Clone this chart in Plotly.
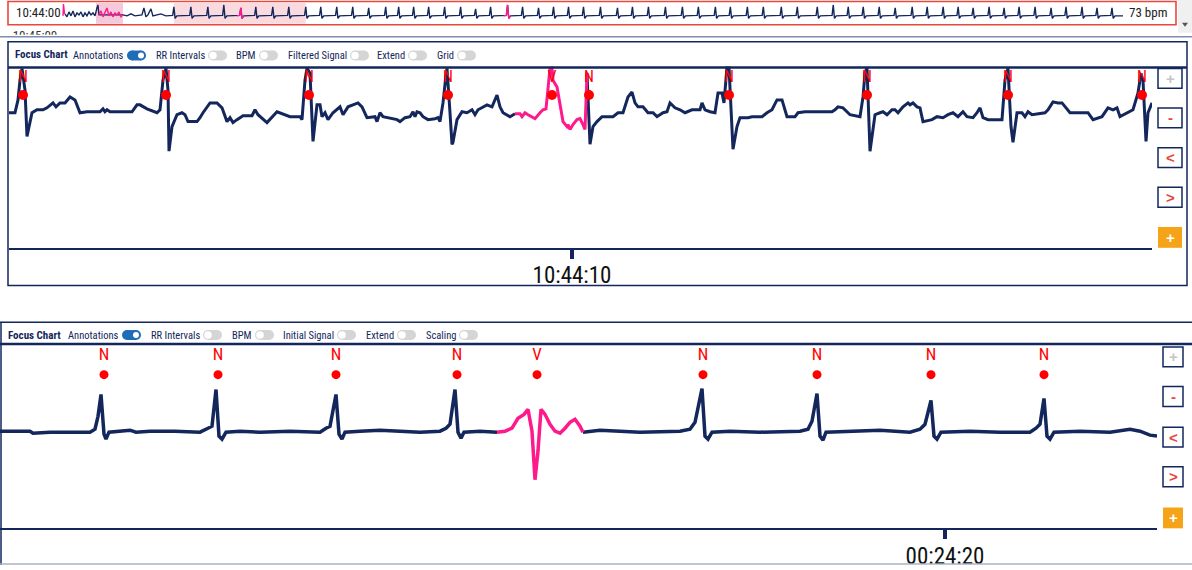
import plotly.graph_objects as go

W, H = 1192, 570
NAVY = "#13275c"
PINK = "#ff1a8c"
RED = "#ff0000"
BTN_RED = "#e8453c"
ORANGE = "#f5a318"
FONT = "Roboto Condensed, Roboto, sans-serif"

# ---------------- DATA ----------------
# Overview strip (time in s from 10:44:00, amplitude in mV)
ov_noise_t = [0.10, 0.20, 0.30, 0.40, 0.50, 0.60, 0.70, 0.80, 0.90, 1.00, 1.10, 1.20, 1.30, 1.40, 1.50, 1.60, 1.70, 1.75, 1.80,
              3.00, 3.20, 3.40, 3.60, 3.80, 3.95, 4.05, 4.15, 4.25, 4.40, 4.50, 4.70, 4.90, 5.15, 5.40]
ov_noise_v = [0.2, -0.1, 0.4, 0.0, 0.5, -0.1, 0.3, 0.1, 0.4, -0.1, 0.3, 0.0, 0.4, 0.1, 0.3, 0.0, 0.8, 1.1, 0.1,
              0.1, 0.0, 0.2, 0.0, 0.1, 0.1, 0.8, -0.1, 0.1, 0.7, 0.0, 0.1, 0.2, 0.0, 0.0]
ov_pink_noise_t = [0.0, 0.025, 0.075, None, 1.80, 1.90, 2.00, 2.10, 2.20, 2.30, 2.40, 2.50, 2.60, 2.70, 2.80, 2.90, 3.00]
ov_pink_noise_v = [0.0, 1.2, 0.2, None, 0.1, 0.5, -0.1, 0.4, 0.8, 0.0, 0.4, -0.1, 0.3, 0.1, 0.4, -0.1, 0.1]
ov_beats = [5.55, 6.40, 7.25, 8.05, 8.90, 9.65, 10.50, 11.30, 12.15, 12.90, 13.70, 14.50, 15.30, 16.15, 16.80,
            17.55, 18.30, 19.10, 19.90, 20.65, 21.40, 22.25, 23.00, 23.80, 24.55, 25.30, 26.05, 26.90, 27.75,
            28.50, 29.30, 30.15, 31.00, 31.80, 32.65, 33.40, 34.25, 35.05, 35.95, 36.75, 37.75, 38.55, 39.30,
            40.05, 40.85, 41.65, 42.50, 43.25, 44.05, 44.80, 45.55, 46.35, 47.10, 47.85, 48.65, 49.45, 50.20,
            51.00, 51.75, 52.50]
ov_amps = [0.9, 0.9, 0.9, 1.1, 0.8, 0.9, 0.9, 0.9, 0.9, 0.9, 0.9, 0.9, 0.8, 0.9, 0.9,
           0.9, 0.9, 0.9, 0.9, 0.7, 0.9, 1.1, 0.9, 0.8, 0.9, 0.9, 0.9, 0.9, 0.8,
           0.9, 0.9, 0.9, 0.9, 0.9, 0.9, 0.9, 0.9, 0.9, 0.9, 0.9, 0.9, 1.1, 0.9,
           0.9, 0.9, 0.8, 0.9, 0.9, 0.9, 0.9, 0.8, 0.9, 0.8, 0.9, 0.9, 0.8, 0.9,
           0.9, 0.8, 0.8]
ov_pink_beats = [8.90, 22.25]
ov_end = 53.05
ov_highlights = [(1.65, 3.0, "#f6c9da"), (5.55, 12.15, "#fadadf")]
ov_next_label = ["10:45:00"]

# Focus chart 1 (time in ms from 10:44:07.140, amplitude in uV)
p1_t = [45, 75, 90, 100, 110, 125, 135, 160, 185, 215, 235, 265, 280, 300, 325, 350, 375, 400, 435, 500, 515, 525, 535, 550,
        660, 685, 700, 735, 785, 800, 815, 830, 840, 845, 860, 885, 910, 925, 940, 985, 1000, 1015, 1050, 1085, 1110, 1135,
        1150, 1165, 1185, 1215, 1260, 1275, 1290, 1335, 1385, 1450, 1500, 1510, 1525, 1535, 1550, 1565, 1585, 1600, 1610,
        1625, 1640, 1665, 1700, 1715, 1740, 1790, 1810, 1835, 1875, 1885, 1900, 1915, 1985, 2000, 2025, 2050, 2065, 2075,
        2085, 2100, 2115, 2140, 2175, 2190, 2200, 2215, 2230, 2235, 2250, 2260, 2265, 2285, 2310, 2335, 2360, 2375, 2390,
        2435, 2460, 2475, 2485, 2500, 2515, 2550, 2575, None,
        2935, 2950, 2965, 2985, 3010, 3065, 3090, 3115, 3140, 3160, 3175, 3190, 3215, 3240, 3265, 3285, 3315, 3335, 3350,
        3375, 3400, 3425, 3460, 3500, 3510, 3525, 3550, 3575, 3590, 3610, 3620, 3635, 3645, 3660, 3665, 3685, 3700, 3740,
        3760, 3810, 3835, 3860, 3885, 3910, 3935, 3975, 3990, 4025, 4160, 4175, 4190, 4215, 4250, 4300, 4315, 4325, 4335,
        4350, 4375, 4400, 4415, 4435, 4460, 4475, 4490, 4515, 4540, 4550, 4565, 4585, 4600, 4615, 4660, 4685, 4715, 4740,
        4765, 4790, 4815, 4835, 4865, 4885, 4900, 4915, 4940, 5010, 5025, 5040, 5055, 5065, 5085, 5110, 5125, 5140, 5160,
        5225, 5240, 5265, 5290, 5310, 5350, 5440, 5465, 5510, 5540, 5565, 5585, 5600, 5635, 5665, 5690, 5705, 5715, 5730,
        5740, 5760]
p1_v = [0, 0, 260, 660, 900, 460, -480, 0, 60, 60, 100, 200, 120, 200, 200, 320, 260, 0, 20, 20, 80, 20, 60, 20,
        20, 160, 160, 80, 0, 60, 660, 900, 460, -780, -280, -40, 0, -40, -180, -180, -100, 0, 200, 200, 100, -180,
        -100, -200, -140, -60, -60, 60, -40, -200, 20, -80, -80, -140, 660, 900, 800, -580, 160, 160, -80,
        0, -140, 0, 120, -40, 120, 200, 120, -100, -80, -180, 0, -80, -140, -180, -100, -80, 20, -80,
        20, 0, -80, -140, -120, -100, -180, 200, 760, 900, 0, -640, -600, -140, 20, 0, 60, -40, 60,
        160, 120, 260, 360, 120, 0, -80, -20, None,
        800, -640, -280, -180, -80, -80, 0, 0, 320, 420, 200, 120, 120, 0, 0, -80, 0, 20, 200,
        100, 60, 0, 60, 60, 200, 60, 20, 0, 400, 400, 200, 920, 920, -480, -740, -280, -100, -100,
        -80, -80, 0, 60, 260, 260, -80, -80, 0, 20, 20, 60, 120, 100, -40, -80, 320, 800, 920,
        -780, -40, 0, 20, -40, 60, 60, 0, 120, 200, 160, 200, 120, 100, -180, -140, -80, -100, -40,
        0, -80, 20, -80, -100, 0, 100, -100, -140, -140, 660, 900, -280, -600, 0, 0, -80, 20, -40,
        0, 60, 220, 200, 200, 0, 0, -140, -80, 100, 60, 100, -80, 0, 60, 400, 800, 660, -580,
        0, 200]
p1_pink_t = [2575, 2600, 2610, 2625, 2640, 2660, 2675, 2700, 2715, 2730, 2740, 2750, 2760, 2765, 2785, 2800, 2815,
             2835, 2840, 2850, 2865, 2885, 2900, 2915, 2925, 2935]
p1_pink_v = [-20, -20, -80, 0, -40, -80, -120, 0, 60, 80, 520, 900, 920, 660, 520, 200, -180,
             -280, -240, -340, -240, -140, -120, -240, -340, 800]
p1_ann_t = [115, 830, 1545, 2240, 2760, 2945, 3645, 4335, 5040, 5710]
p1_ann_lbl = ["N", "N", "N", "N", "V", "N", "N", "N", "N", "N"]
p1_tick = [2860]
p1_tick_lbl = ["10:44:10"]

# Focus chart 2 (time in ms from 00:24:15.275, amplitude in uV)
p2_t = [0, 150, 165, 250, 450, 475, 490, 505, 520, 530, 545, 600, 650, 680, 750, 875, 1000, 1040, 1060, 1080, 1095,
        1110, 1130, 1200, 1300, 1450, 1600, 1630, 1650, 1680, 1695, 1710, 1725, 1800, 1900, 2100, 2200, 2230, 2250,
        2275, 2290, 2305, 2320, 2400, 2485, None,
        2915, 2950, 3000, 3200, 3400, 3450, 3475, 3510, 3525, 3540, 3560, 3650, 3800, 4000, 4040, 4060, 4085, 4100,
        4115, 4130, 4250, 4400, 4550, 4600, 4625, 4655, 4670, 4685, 4705, 4850, 5000, 5150, 5180, 5200, 5220, 5235,
        5250, 5270, 5400, 5550, 5650, 5700, 5750, 5785]
p2_v = [0, 0, -40, -20, -20, 40, 300, 740, -60, -160, -20, 0, 20, -20, 0, 0, -20, 60, 100, 840, -100,
        -160, -20, 0, -20, 0, -20, 60, 100, 740, -60, -160, -20, 0, 20, -20, 0, 60, 140,
        840, -20, -140, -20, 0, -20, None,
        -20, 0, 20, -20, 0, 40, 180, 860, -100, -160, -20, 0, -20, 0, 40, 200, 760, -100,
        -180, -20, 0, 20, -20, 40, 140, 620, -100, -160, -20, 0, -20, -20, 60, 140, 660, -100,
        -160, -20, 0, -20, 40, 0, -80, -100]
p2_pink_t = [2485, 2525, 2560, 2590, 2620, 2640, 2660, 2675, 2690, 2705, 2725, 2750, 2775, 2800, 2825, 2850, 2875,
             2900, 2915]
p2_pink_v = [-20, 0, 60, 260, 340, 440, 0, -980, -400, 440, 340, 140, 0, -40, 60, 180, 240, 100, -20]
p2_ann_t = [520, 1090, 1680, 2285, 2685, 3515, 4085, 4655, 5220]
p2_ann_lbl = ["N", "N", "N", "N", "V", "N", "N", "N", "N"]
p2_tick = [4725]
p2_tick_lbl = ["00:24:20"]

toolbar1 = [("Annotations", True), ("RR Intervals", False), ("BPM", False), ("Filtered Signal", False),
            ("Extend", False), ("Grid", False)]
toolbar2 = [("Annotations", True), ("RR Intervals", False), ("BPM", False), ("Initial Signal", False),
            ("Extend", False), ("Scaling", False)]


# ---------------- helpers (pixel -> paper) ----------------
def X(px):
    return px / W


def Y(py):
    return 1 - py / H


def beat_shape(b, a):
    return [b - 0.2, b - 0.06, b, b + 0.06, b + 0.15], [0.0, 0.05, a, -0.25, 0.0]


# overview polyline built from beat list
ov_t, ov_v = [], []
ov_t += ov_noise_t
ov_v += ov_noise_v
for b, a in zip(ov_beats, ov_amps):
    bt, bv = beat_shape(b, a)
    ov_t += bt
    ov_v += bv
ov_t.append(ov_end)
ov_v.append(0.0)
ovp_t, ovp_v = list(ov_pink_noise_t), list(ov_pink_noise_v)
for b in ov_pink_beats:
    a = ov_amps[ov_beats.index(b)]
    bt, bv = beat_shape(b, a)
    ovp_t += [None] + bt
    ovp_v += [None] + bv

fig = go.Figure()

# overview traces
fig.add_trace(go.Scatter(x=ov_t, y=ov_v, mode="lines", line=dict(color=NAVY, width=1.4),
                         xaxis="x", yaxis="y", hoverinfo="skip"))
fig.add_trace(go.Scatter(x=ovp_t, y=ovp_v, mode="lines", line=dict(color=PINK, width=1.4),
                         xaxis="x", yaxis="y", hoverinfo="skip"))
# clipped second overview row label
fig.add_trace(go.Scatter(x=[35], y=[-0.85], mode="text", text=ov_next_label, cliponaxis=True,
                         textfont=dict(size=13, color="#333", family=FONT),
                         xaxis="x4", yaxis="y4", hoverinfo="skip"))

# panel 1
fig.add_trace(go.Scatter(x=p1_t, y=p1_v, mode="lines", line=dict(color=NAVY, width=3),
                         xaxis="x2", yaxis="y2", hoverinfo="skip"))
fig.add_trace(go.Scatter(x=p1_pink_t, y=p1_pink_v, mode="lines", line=dict(color=PINK, width=3),
                         xaxis="x2", yaxis="y2", hoverinfo="skip"))
fig.add_trace(go.Scatter(x=p1_ann_t, y=[700] * len(p1_ann_t), mode="text", text=p1_ann_lbl, cliponaxis=False,
                         textfont=dict(size=16, color=RED, family=FONT), xaxis="x2", yaxis="y2", hoverinfo="skip"))
fig.add_trace(go.Scatter(x=p1_ann_t, y=[360] * len(p1_ann_t), mode="markers", cliponaxis=False,
                         marker=dict(size=10, color=RED), xaxis="x2", yaxis="y2", hoverinfo="skip"))

# panel 2
fig.add_trace(go.Scatter(x=p2_t, y=p2_v, mode="lines", line=dict(color=NAVY, width=3.5),
                         xaxis="x3", yaxis="y3", hoverinfo="skip"))
fig.add_trace(go.Scatter(x=p2_pink_t, y=p2_pink_v, mode="lines", line=dict(color=PINK, width=3.5),
                         xaxis="x3", yaxis="y3", hoverinfo="skip"))
fig.add_trace(go.Scatter(x=p2_ann_t, y=[1520] * len(p2_ann_t), mode="text", text=p2_ann_lbl, cliponaxis=False,
                         textfont=dict(size=17, color=RED, family=FONT), xaxis="x3", yaxis="y3", hoverinfo="skip"))
fig.add_trace(go.Scatter(x=p2_ann_t, y=[1140] * len(p2_ann_t), mode="markers", cliponaxis=False,
                         marker=dict(size=9, color=RED), xaxis="x3", yaxis="y3", hoverinfo="skip"))

hidden = dict(visible=False, fixedrange=True)
time_axis = dict(showline=True, linecolor=NAVY, linewidth=2, ticks="outside", ticklen=9, tickwidth=4,
                 tickcolor=NAVY, showgrid=False, zeroline=False, fixedrange=True, ticklabelstandoff=-3,
                 tickfont=dict(size=23, color="#111", family=FONT))
fig.update_layout(
    width=W, height=H, margin=dict(l=0, r=0, t=0, b=0), paper_bgcolor="white", plot_bgcolor="rgba(0,0,0,0)",
    showlegend=False,
    xaxis=dict(domain=[X(62), X(1125)], range=[-0.05, 53.15], anchor="y", **hidden),
    yaxis=dict(domain=[Y(25), Y(2)], range=[-0.9, 1.4], anchor="x", **hidden),
    xaxis4=dict(domain=[0, 1], range=[0, 1192], anchor="y4", **hidden),
    yaxis4=dict(domain=[Y(35), Y(27)], range=[-0.5, 0.9], anchor="x4", **hidden),
    xaxis2=dict(domain=[X(9), X(1152)], range=[45, 5760], anchor="y2", tickvals=p1_tick, ticktext=p1_tick_lbl,
                **time_axis),
    yaxis2=dict(domain=[Y(250), Y(67)], range=[-2740, 940], anchor="x2", **hidden),
    xaxis3=dict(domain=[0, X(1157)], range=[0, 5785], anchor="y3", tickvals=p2_tick, ticktext=p2_tick_lbl,
                **time_axis),
    yaxis3=dict(domain=[Y(533), Y(347)], range=[-1960, 1760], anchor="x3", **hidden),
)

shapes = []
ann = []


def rect(x0, y0, x1, y1, line=None, lw=1.5, fill=None, layer="below"):
    shapes.append(dict(type="rect", xref="paper", yref="paper", x0=X(x0), x1=X(x1), y0=Y(y1), y1=Y(y0),
                       line=dict(color=line or "rgba(0,0,0,0)", width=lw if line else 0),
                       fillcolor=fill or "rgba(0,0,0,0)", layer=layer))


def hline(x0, x1, y, color, lw):
    shapes.append(dict(type="line", xref="paper", yref="paper", x0=X(x0), x1=X(x1), y0=Y(y), y1=Y(y),
                       line=dict(color=color, width=lw), layer="above"))


def vline(x, y0, y1, color, lw):
    shapes.append(dict(type="line", xref="paper", yref="paper", x0=X(x), x1=X(x), y0=Y(y0), y1=Y(y1),
                       line=dict(color=color, width=lw), layer="above"))


def circle(cx, cy, r, fill, line=None, lw=1):
    shapes.append(dict(type="circle", xref="paper", yref="paper", x0=X(cx - r), x1=X(cx + r), y0=Y(cy + r),
                       y1=Y(cy - r), fillcolor=fill, line=dict(color=line or fill, width=lw if line else 0),
                       layer="above"))


def text(px, py, s, size=12, color=NAVY, anchor="left", bold=False, family=FONT):
    ann.append(dict(x=X(px), y=Y(py), xref="paper", yref="paper", text=f"<b>{s}</b>" if bold else s,
                    showarrow=False, xanchor=anchor, yanchor="middle",
                    font=dict(size=size, color=color, family=family)))


def toggle(x0, yc, on):
    w, h = 19, 10
    r = h / 2
    col = "#1f6cb8" if on else "#d5d5d5"
    shapes.append(dict(type="rect", xref="paper", yref="paper", x0=X(x0 + r), x1=X(x0 + w - r), y0=Y(yc + r),
                       y1=Y(yc - r), fillcolor=col, line=dict(width=0), layer="above"))
    circle(x0 + r, yc, r, col)
    circle(x0 + w - r, yc, r, col)
    if on:
        circle(x0 + w - r, yc, r - 2, "white")
    else:
        circle(x0 + r, yc, r - 1.2, "white")


# overview strip
for a0, a1, col in ov_highlights:
    shapes.append(dict(type="rect", xref="x", yref="paper", x0=a0, x1=a1, y0=Y(24), y1=Y(3), fillcolor=col,
                       line=dict(width=0), layer="below"))
rect(8, 1.5, 1176, 25, line="#e8493c", lw=1.6, layer="above")
rect(1178, 0, 1192, 33, fill="#f0f0f0")
shapes.append(dict(type="path", xref="paper", yref="paper",
                   path=f"M {X(1182)} {Y(23)} L {X(1188)} {Y(23)} L {X(1185)} {Y(27)} Z",
                   fillcolor="#555", line=dict(width=0)))
hline(0, 1192, 37, "#7d8db0", 1.5)
text(14, 13, "10:44:00", size=13, color="#222")
text(1169, 13, "73 bpm", size=13, color="#222", anchor="right")

# panel 1 frame
rect(8, 42, 1187, 288, line=NAVY, lw=1.5)
hline(8, 1187, 68, NAVY, 2.5)
text(13, 55, "Focus Chart", size=11, bold=True)
tg1 = [127, 208, 259, 350, 408, 457]
for (lbl, on), tx in zip(toolbar1, tg1):
    text(tx - 1, 56, lbl, size=10.5, anchor="right")
    toggle(tx, 56, on)

# panel 2 frame
hline(0, 1192, 325, NAVY, 1.5)
vline(1, 325, 570, NAVY, 1.5)
hline(0, 1192, 347, NAVY, 2.5)
hline(0, 1192, 569, "#a9b3c9", 1.5)
text(6, 338, "Focus Chart", size=11, bold=True)
tg2 = [122, 203, 255, 337, 397, 459]
for (lbl, on), tx in zip(toolbar2, tg2):
    text(tx - 1, 338, lbl, size=10.5, anchor="right")
    toggle(tx, 338, on)


def buttons(x0, x1, tops, h):
    syms = [("+", "#c5c5c5"), ("-", BTN_RED), ("<", BTN_RED), (">", BTN_RED)]
    for (s, c), t in zip(syms, tops[:4]):
        rect(x0, t, x1, t + h, line=NAVY, lw=1.5, fill="white", layer="above")
        text((x0 + x1) / 2, t + h / 2, s, size=15, color=c, anchor="center", bold=True, family="Arial, sans-serif")
    t = tops[4]
    rect(x0, t, x1, t + h + 1, fill=ORANGE, layer="above")
    text((x0 + x1) / 2, t + h / 2 + 0.5, "+", size=15, color="white", anchor="center", bold=True,
         family="Arial, sans-serif")


buttons(1158, 1182, [69, 109, 149, 189, 229], 20)
buttons(1163, 1183, [350, 390, 431, 471, 512], 20)

fig.update_layout(shapes=shapes, annotations=ann)
fig.write_html("out.html", config={"displayModeBar": False},
               post_script="document.body.style.margin='0';")
